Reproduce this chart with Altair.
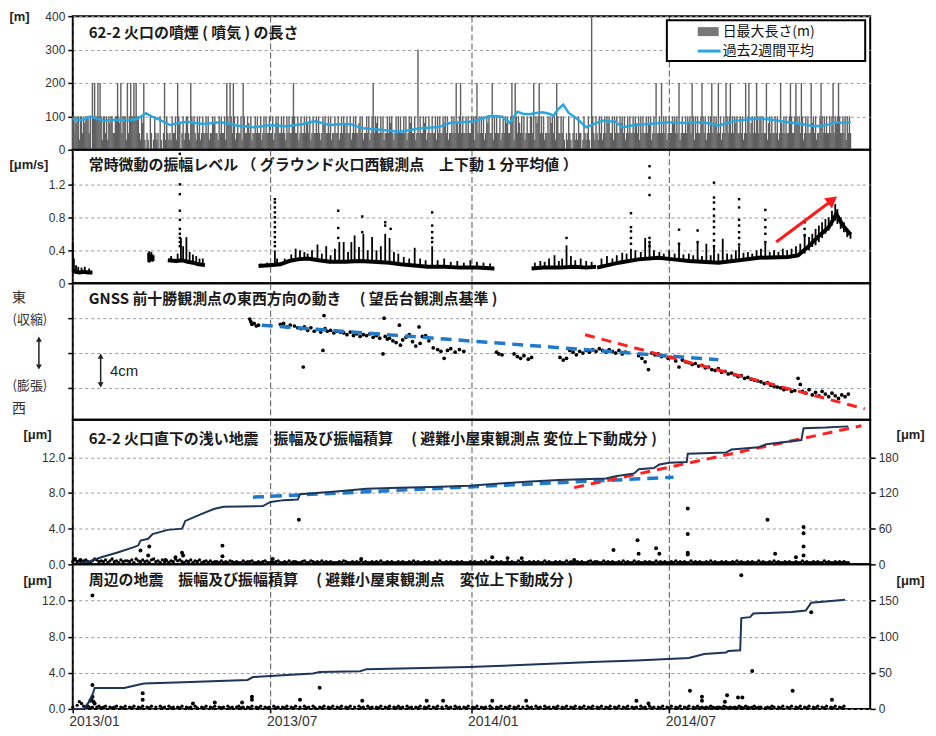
import altair as alt
import pandas as pd

JP = "Noto Sans CJK JP"
LAT = "Liberation Sans"
ONE = pd.DataFrame({"k": [0]})

# ---------------- shared time axis (days since 2013-01-01) ----------------
X_DOMAIN = [0, 730]
TICK_DAYS = [0, 181, 365, 546]
TICK_LABELS = ["2013/01", "2013/07", "2014/01", "2014/07"]

# ---------------- panel 1 : plume height ----------------
SMOKE_DAILY_CODES = [
    "1h1e11q11h1e111h10h1e1111h1q11", "h1q1e11hh11q1e1h111q1h1e11h1q1",
    "1hq1e1q0hq01h0q1hqh01q0h1q1hqh", "q1hh1qh1e0h1qh11hqh1e1hq1h1qh1",
    "hh1h1qhh1e1hhq1h1hh1qh1eh1hh1q", "h1hh1qh1hh1eh1qhh1h1hh1qh1h1hh",
    "1hh1qh1e1hh1h1hq1h1hh1e1hh1qh1", "hh1h1eh1qh1hh1h1hqh1e1hh1h1qhh",
    "1hh1qh1h1eh1hh1qh1h1hhe1h1qhh1", "h1qh1hh1e1hh1h1qhh1h1e1hqh1h1h",
    "1hh1h1qh1e1hh1qh1h1hh1e1qh1hh1", "hh1q1h1hh1e1h1qhh1h1h1eh1qh1hh",
    "1h1hh1e1q1hh1h1h1qh1e1hh1q1h1h", "h1qh1h1e1hh1h1qh1h1eh1h1qh1hh1",
    "1h1q1e1hh1h1qhh1h1e1h1qh1hh1h1", "q0hq1hq0h1qhq1hh0q1hqh1q0h1hq1",
    "hq1h1qh1h1e1hh1q1h1hh1e1h1qh1h", "1hh1h1eh1q1h1hh1h1e1qh1h1hh1h1",
    "h1h1qh1hh1e1h1h1qh1hh1h1e1hh1q", "1h1hh1e1h1qh1h1hh1e1h1h1qh1hh1",
    "h1qh1h1e1hh1h1qh1h1hhe1h1hq1h1", "1h1hh1qe1h1hh1h1qh1eh1h1hh1q1h",
    "h1h1e1hh1qh1h1hh1e1h1qhh1h1h1h", "1hh1h1qh1e1h1hh1h1q1h1hh1e1h1h",
]
SMOKE_CODE_VALUES = {"0": 0, "q": 30, "h": 50, "e": 80, "1": 100}
SMOKE_LAST_DAY = 712
SMOKE_PEAK_DAYS = [18, 20, 23, 25, 41, 44, 50, 53, 56, 58, 65, 84, 96, 108, 141, 144,
                   147, 156, 202, 275, 316, 351, 355, 370, 384, 402, 405, 422, 427, 443,
                   475, 534, 539, 555, 567, 576, 585, 591, 598, 602, 616, 619, 626, 635,
                   648, 657, 662, 667, 676, 685, 696, 701]
SMOKE_PEAK_VALUES = [200, 200, 200, 200, 200, 200, 200, 200, 200, 200, 200, 200, 200, 200, 200, 200,
                     200, 200, 200, 200, 300, 200, 200, 200, 200, 200, 200, 200, 200, 200,
                     400, 200, 200, 200, 200, 200, 200, 200, 200, 200, 200, 200, 200, 200,
                     200, 200, 200, 200, 200, 200, 200, 200]
AVG_DAYS = [0, 8, 16, 22, 28, 40, 50, 59, 67, 72, 78, 89, 97, 105, 112, 120, 128, 135, 143,
            151, 158, 165, 173, 181, 188, 196, 204, 211, 217, 222, 228, 235, 245, 254, 260,
            266, 274, 281, 290, 299, 308, 318, 325, 333, 340, 345, 355, 363, 372, 381, 387,
            393, 400, 407, 412, 418, 424, 430, 436, 440, 444, 449, 454, 462, 470, 478, 485,
            491, 497, 503, 510, 516, 530, 546, 560, 576, 584, 591, 599, 607, 617, 628, 640,
            652, 660, 667, 676, 685, 692, 698, 705, 712]
AVG_VALUES = [92, 88, 99, 93, 87, 90, 88, 92, 109, 100, 92, 74, 80, 84, 80, 77, 80, 82, 78,
              72, 70, 67, 70, 74, 72, 70, 74, 77, 82, 85, 80, 74, 76, 77, 70,
              64, 62, 60, 57, 54, 58, 64, 66, 67, 73, 80, 82, 84, 90, 100, 101,
              99, 80, 114, 108, 106, 110, 112, 108, 102, 120, 135, 110, 92, 67, 78, 87,
              85, 84, 67, 72, 74, 78, 82, 80, 82, 78, 72, 80, 87, 90, 94, 90,
              84, 80, 77, 72, 70, 76, 82, 80, 82]

# ---------------- panel 2 : tremor amplitude ----------------
TREM_BASE_SEG = ["A"] * 6 + ["C"] * 7 + ["D"] * 19 + ["E"] * 6 + ["F"] * 18
TREM_BASE_DAYS = [0, 2, 6, 10, 14, 18,
                  87, 95, 100, 105, 110, 115, 121,
                  170, 180, 190, 198, 206, 215, 225, 235, 250, 262, 275, 290, 300, 310, 325, 340, 355, 370, 386,
                  420, 430, 445, 460, 470, 479,
                  480, 490, 500, 518, 536, 550, 564, 591, 610, 628, 655, 664, 673, 682, 692, 699, 705, 712]
TREM_BASE_VALUES = [0.16, 0.14, 0.13, 0.14, 0.13, 0.13,
                    0.28, 0.27, 0.28, 0.26, 0.25, 0.23, 0.22,
                    0.21, 0.22, 0.23, 0.27, 0.29, 0.30, 0.28, 0.26, 0.26, 0.27, 0.26, 0.25, 0.23, 0.22, 0.20, 0.20, 0.19, 0.19, 0.18,
                    0.18, 0.19, 0.19, 0.20, 0.19, 0.20,
                    0.19, 0.22, 0.25, 0.29, 0.31, 0.29, 0.27, 0.25, 0.28, 0.31, 0.32, 0.34, 0.44, 0.56, 0.68, 0.84, 0.70, 0.59]
TREM_SPIKE_DAYS = [0, 1, 3, 5, 8, 11, 15,
                   69, 70, 71, 72, 73, 74,
                   90, 96, 99, 101, 104, 107, 110, 113, 116, 119,
                   172, 178, 185, 187, 194, 200, 204, 208, 212, 215, 219, 224, 228, 232, 236, 240, 244, 248,
                   252, 255, 258, 262, 266, 270, 274, 278, 282, 286, 290, 294, 298, 303, 308, 313, 318, 323,
                   329, 334, 340, 346, 352, 358, 364, 370, 376, 382,
                   423, 428, 432, 436, 441, 445, 448, 452, 456, 460, 465, 470, 475,
                   484, 489, 494, 498, 503, 507, 511, 515, 520, 524, 528, 532, 537, 541, 546, 551, 555, 559,
                   564, 568, 572, 576, 580, 584, 587, 591, 595, 599, 603, 607, 610, 614, 618, 622, 626, 630,
                   634, 638, 642, 646, 650, 654, 658, 662, 666, 670, 674, 677, 680, 683, 686, 689, 692, 695,
                   698, 700, 703, 706, 709, 712]
TREM_SPIKE_LOW = [0.14, 0.13, 0.12, 0.12, 0.12, 0.12, 0.12,
                  0.26, 0.25, 0.26, 0.27, 0.26, 0.27,
                  0.26, 0.26, 0.27, 0.27, 0.25, 0.25, 0.24, 0.23, 0.22, 0.21,
                  0.20, 0.20, 0.22, 0.22, 0.24, 0.27, 0.28, 0.28, 0.29, 0.28, 0.27, 0.27, 0.26, 0.25, 0.25, 0.25, 0.25, 0.25,
                  0.25, 0.26, 0.26, 0.26, 0.26, 0.26, 0.25, 0.25, 0.25, 0.24, 0.24, 0.23, 0.22, 0.22, 0.21, 0.21, 0.20, 0.20,
                  0.20, 0.20, 0.19, 0.19, 0.19, 0.18, 0.18, 0.18, 0.18, 0.17,
                  0.17, 0.17, 0.18, 0.18, 0.18, 0.18, 0.19, 0.18, 0.19, 0.19, 0.19, 0.18, 0.19,
                  0.20, 0.21, 0.22, 0.24, 0.25, 0.26, 0.27, 0.28, 0.28, 0.29, 0.29, 0.30, 0.30, 0.29, 0.29, 0.28, 0.28, 0.27,
                  0.27, 0.26, 0.26, 0.25, 0.25, 0.25, 0.25, 0.25, 0.26, 0.27, 0.27, 0.28, 0.28, 0.29, 0.30, 0.30, 0.30, 0.31,
                  0.31, 0.31, 0.31, 0.32, 0.32, 0.32, 0.33, 0.33, 0.34, 0.36, 0.40, 0.44, 0.46, 0.50, 0.55, 0.60, 0.64, 0.70,
                  0.76, 0.72, 0.66, 0.62, 0.56, 0.54]
TREM_SPIKE_HIGH = [0.50, 0.30, 0.22, 0.20, 0.19, 0.20, 0.18,
                   0.37, 0.39, 0.36, 0.38, 0.35, 0.34,
                   0.33, 0.36, 0.55, 0.45, 0.56, 0.38, 0.35, 0.33, 0.30, 0.30,
                   0.24, 0.25, 0.40, 0.30, 0.30, 0.35, 0.42, 0.40, 0.38, 0.36, 0.40, 0.47, 0.36, 0.45, 0.34, 0.42, 0.50, 0.50,
                   0.38, 0.50, 0.58, 0.44, 0.60, 0.40, 0.56, 0.40, 0.45, 0.60, 0.55, 0.38, 0.36, 0.32, 0.30, 0.43, 0.30, 0.28,
                   0.45, 0.28, 0.30, 0.26, 0.27, 0.25, 0.28, 0.26, 0.25, 0.24,
                   0.25, 0.27, 0.26, 0.30, 0.34, 0.27, 0.30, 0.46, 0.33, 0.28, 0.30, 0.27, 0.26,
                   0.30, 0.33, 0.30, 0.34, 0.37, 0.36, 0.42, 0.40, 0.38, 0.55, 0.50, 0.40, 0.38, 0.36, 0.40, 0.36, 0.48, 0.35,
                   0.36, 0.34, 0.50, 0.33, 0.48, 0.34, 0.45, 0.36, 0.54, 0.36, 0.35, 0.40, 0.45, 0.37, 0.38, 0.36, 0.40, 0.42,
                   0.50, 0.38, 0.40, 0.38, 0.42, 0.40, 0.42, 0.45, 0.48, 0.60, 0.56, 0.60, 0.66, 0.70, 0.74, 0.78, 0.80, 0.88,
                   0.96, 0.90, 0.80, 0.74, 0.66, 0.62]
TREM_DOT_COLUMNS = {
    98: [1.57, 1.2, 1.08, 0.88, 0.77, 0.66, 0.6, 0.55, 0.5, 0.45],
    185: [1.02, 0.98, 0.92, 0.86, 0.8, 0.74, 0.68, 0.62, 0.56, 0.5, 0.45],
    243: [0.88, 0.67, 0.55],
    265: [0.81, 0.62],
    286: [0.74, 0.7],
    291: [0.66],
    329: [0.86, 0.7, 0.62, 0.55, 0.5],
    452: [0.55],
    511: [0.85, 0.68, 0.63, 0.55, 0.48],
    528: [1.42, 1.28, 1.07, 0.55, 0.5, 0.45],
    555: [0.65, 0.48],
    572: [0.64, 0.5],
    587: [1.22, 1.04, 0.98, 0.9, 0.82, 0.75, 0.68, 0.6, 0.52, 0.45],
    610: [1.02, 0.92, 0.77, 0.7, 0.62, 0.55, 0.47],
    634: [0.89, 0.77, 0.68, 0.6, 0.5],
    670: [0.74, 0.66, 0.58],
}
ARROW_DAYS = [644, 695.5]
ARROW_VALUES = [0.50, 1.01]

# ---------------- panel 3 : GNSS east-west ----------------
GNSS_DAYS = [162, 163, 164, 166, 168, 170, 190, 193, 196, 199, 203, 206,
             209, 211, 212, 215, 218, 221, 224, 227, 229, 230, 231, 233, 236, 239, 242, 245,
             248, 251, 254, 257, 260, 263, 266, 269, 272, 275, 278, 281, 284, 285, 286, 288,
             290, 293, 296, 299, 300, 302, 305, 308, 311, 314, 317, 318, 320, 323, 326,
             330, 334, 337, 340, 343, 346, 350, 354, 358,
             388, 390, 393, 404, 407, 410, 413, 417, 420, 446, 449, 452, 455, 458, 461, 464,
             467, 470, 473, 476, 479, 482, 485, 488, 491, 494, 497, 500, 503, 506, 518, 521,
             524, 527, 530, 533, 536, 539, 542, 545, 548, 552, 555, 558, 561, 564, 567, 570,
             573, 576, 579, 582, 585, 588, 591, 594, 597, 600, 603, 606, 609, 612, 615, 618,
             621, 624, 627, 630, 633, 636, 639, 642, 645, 648, 651, 654, 658, 661, 664, 666,
             668, 671, 674, 677, 680, 683, 686, 689, 692, 695, 698, 701, 704, 707, 710]
GNSS_CM = [3.9, 3.6, 3.3, 3.4, 3.1, 3.2, 3.3, 3.4, 3.0, 3.2, 3.1, 2.9,
           2.8, -1.6, 3.0, 2.6, 2.9, 2.5, 2.7, 2.4, 0.3, 4.3, 2.8, 2.5, 2.6, 2.3, 2.5, 2.4,
           2.3, 2.1, 2.4, 2.0, 2.2, 1.9, 2.1, 2.0, 2.2, 1.8, 2.0, 1.7, -0.1, 4.0, 1.9, 1.6,
           1.7, 1.4, 1.2, 3.2, 0.9, 1.5, 1.8, 2.1, 1.3, 0.8, 3.0, 1.1, 1.9, 2.0, 1.4,
           0.6, 0.4, 0.2, -0.6, 0.3, 0.5, 0.1, 0.4, 0.2,
           0.1, -0.1, -0.2, -0.1, -0.4, -0.6, -0.3, -0.7, -0.5, -0.5, -0.8, -0.6, 0.3, 0.1, -0.2, 0.2,
           0.0, 0.3, 0.1, 0.4, 0.2, 0.5, 0.3, 0.1, 0.4, 0.2, 0.0, 0.3, -0.1, 0.1, -0.3, -0.6,
           -1.0, -1.9, 0.0, -0.2, -0.1, -0.4, -0.3, -0.6, -0.5, -0.9, -1.6, -0.8, -1.0, -1.1, -1.3, -1.2,
           -1.5, -1.4, -1.7, -1.6, -1.9, -2.0, -1.8, -2.2, -2.1, -2.4, -2.3, -2.5, -2.7, -2.6, -2.9, -2.8,
           -3.0, -3.1, -3.2, -3.3, -3.5, -3.4, -3.7, -3.8, -3.9, -4.0, -4.2, -4.1, -4.4, -4.3, -2.9, -3.6,
           -4.4, -4.6, -4.2, -4.8, -4.5, -4.9, -4.4, -4.7, -5.0, -4.6, -4.9, -5.2, -4.8, -5.0, -4.7]
GNSS_TREND1_DAYS = [173, 591]
GNSS_TREND1_CM = [3.2, -0.77]
GNSS_TREND2_DAYS = [469, 725]
GNSS_TREND2_CM = [2.1, -6.4]

# ---------------- panel 4 : shallow earthquakes ----------------
EQ4_BASE_CODES = [
    "353424532465343524634253443526", "435342563425342436453243524352",
    "342423324232432322423342232342", "232342232423322342243232423232",
    "223243223232423223232422323223", "232232423223232232422323223232",
    "223232232423223232232322423223", "232322423223232242322323223423",
    "322423232232423224232232322423", "232232423232242323223242322323",
    "223242322323224232232423223232", "232242322323224232232323220000",
]
EQ4_EVENT_DAYS = [2, 7, 62, 69, 70, 85, 94, 100, 101, 137, 137, 183, 207, 264, 384, 398, 411,
                  459, 495, 517, 518, 534, 537, 563, 563, 563, 563, 636, 643, 662, 669, 669, 669, 669]
EQ4_EVENT_AMP = [0.6, 0.5, 1.55, 1.0, 2.0, 0.5, 0.8, 1.3, 1.0, 2.1, 0.9, 0.6, 5.0, 0.6, 0.8, 0.7, 0.7,
                 0.5, 1.6, 2.7, 1.2, 1.8, 1.2, 6.25, 3.4, 1.3, 1.1, 5.0, 1.2, 0.8, 4.2, 3.5, 2.0, 1.0]
CUM4_DAYS = [0, 14, 26, 41, 56, 60, 62, 69, 73, 87, 100, 103, 117, 129, 138, 174, 181, 193, 206, 208,
             238, 269, 299, 329, 363, 415, 445, 488, 497, 514, 518, 532, 537, 546, 562, 563, 598, 603,
             628, 635, 667, 669, 689, 710]
CUM4_VALUES = [0, 4, 12, 20, 29, 32, 40, 43, 51, 58, 60, 73, 84, 93, 97, 98, 105, 108, 109, 118,
               122, 127, 129, 130, 132, 139, 142, 144.5, 148, 153, 160, 162, 168, 171, 172, 186, 188, 193,
               197, 202, 209, 229, 230, 232]
CUM4_TREND1_DAYS = [165, 550]
CUM4_TREND1_VALUES = [113, 146.5]
CUM4_TREND2_DAYS = [459, 722]
CUM4_TREND2_VALUES = [129, 233]

# ---------------- panel 5 : surrounding earthquakes ----------------
EQ5_BASE_CODES = [
    "204863231202312302123021302130", "213021302031203120213021203102",
    "130213021203120231202130213021", "203120213021302031203102130213",
    "021302130203120312021302130213", "120312021302130213020312031202",
    "130213021203102130213021302031", "203120312021302130213021302130",
    "213021302130213021203120312021", "302130213021302131212132122132",
    "121213213212312201213202130213", "021302130213021302130213000000",
]
EQ5_EVENT_DAYS = [16, 17, 18, 18, 18, 19, 20, 64, 64, 110, 130, 155, 164, 164, 208, 226, 265, 324,
                  339, 384, 415, 516, 527, 565, 576, 576, 597, 599, 609, 612, 613, 622, 659, 676, 695]
EQ5_EVENT_AMP = [0.9, 1.1, 12.55, 2.64, 1.35, 0.8, 0.6, 1.73, 1.0, 0.6, 0.7, 0.7, 1.35, 1.0, 1.0, 2.35,
                 0.9, 0.9, 0.9, 0.9, 0.9, 0.9, 0.6, 2.0, 1.35, 0.9, 0.8, 1.5, 1.25, 14.8, 1.25, 4.2,
                 2.0, 10.7, 1.0]
CUM5_DAYS = [0, 10, 16, 19, 20, 47, 65, 101, 160, 165, 196, 220, 226, 263, 269, 363, 415, 475, 516,
             564, 578, 598, 600, 611, 612, 620, 623, 658, 671, 676, 689, 707]
CUM5_VALUES = [0, 0, 12, 24, 29, 29, 35, 37, 40, 44, 47, 49, 51, 52, 55, 58, 61, 65, 67,
               70.5, 76, 78, 80, 81, 125.6, 127, 132, 134, 136, 147, 148.5, 151]

TITLES = [
    "62-2 火口の噴煙 ( 噴気 ) の長さ",
    "常時微動の振幅レベル （ グラウンド火口西観測点　上下動 1 分平均値 ）",
    "GNSS 前十勝観測点の東西方向の動き　 ( 望岳台観測点基準 )",
    "62-2 火口直下の浅い地震　振幅及び振幅積算　 ( 避難小屋東観測点 変位上下動成分 )",
    "周辺の地震　振幅及び振幅積算　 ( 避難小屋東観測点　変位上下動成分 )",
]

# ---------------- build data frames ----------------
codes = "".join(SMOKE_DAILY_CODES)[: SMOKE_LAST_DAY + 1]
smoke = pd.DataFrame({"d": list(range(len(codes))), "v": [SMOKE_CODE_VALUES[c] for c in codes]})
for day, val in zip(SMOKE_PEAK_DAYS, SMOKE_PEAK_VALUES):
    smoke.loc[smoke["d"] == day, "v"] = val
smoke["z"] = 0
avg = pd.DataFrame({"d": AVG_DAYS, "v": AVG_VALUES})

trem_base = pd.DataFrame({"d": TREM_BASE_DAYS, "v": TREM_BASE_VALUES, "seg": TREM_BASE_SEG})
trem_spk = pd.DataFrame({"d": TREM_SPIKE_DAYS, "lo": TREM_SPIKE_LOW, "hi": TREM_SPIKE_HIGH})
dd, dv = [], []
for day, vals in TREM_DOT_COLUMNS.items():
    for v in vals:
        dd.append(day)
        dv.append(v)
trem_dot = pd.DataFrame({"d": dd, "v": dv})
arrow = pd.DataFrame({"d": ARROW_DAYS, "v": ARROW_VALUES})
arrow_head = arrow.tail(1)

gnss = pd.DataFrame({"d": GNSS_DAYS, "v": GNSS_CM})
gt1 = pd.DataFrame({"d": GNSS_TREND1_DAYS, "v": GNSS_TREND1_CM})
gt2 = pd.DataFrame({"d": GNSS_TREND2_DAYS, "v": GNSS_TREND2_CM})
scale_bar = pd.DataFrame({"d": [25.5], "lo": [-3.75], "hi": [-0.25]})
scale_heads = pd.DataFrame({"d": [25.5, 25.5], "v": [-0.35, -3.65], "s": ["triangle-up", "triangle-down"]})
scale_text = pd.DataFrame({"d": [34], "v": [-2.05], "t": ["4cm"]})


def base_frame(code_chunks, last_day):
    s = "".join(code_chunks)
    rows = [(2 * i, int(c) * 0.1) for i, c in enumerate(s) if c != "0" and 2 * i <= last_day]
    return pd.DataFrame(rows, columns=["d", "v"])


eq4_base = base_frame(EQ4_BASE_CODES, 712)
eq4_evt = pd.DataFrame({"d": EQ4_EVENT_DAYS, "v": EQ4_EVENT_AMP})
cum4 = pd.DataFrame({"d": CUM4_DAYS, "v": CUM4_VALUES})
c4t1 = pd.DataFrame({"d": CUM4_TREND1_DAYS, "v": CUM4_TREND1_VALUES})
c4t2 = pd.DataFrame({"d": CUM4_TREND2_DAYS, "v": CUM4_TREND2_VALUES})

eq5_base = base_frame(EQ5_BASE_CODES, 712)
eq5_evt = pd.DataFrame({"d": EQ5_EVENT_DAYS, "v": EQ5_EVENT_AMP})
cum5 = pd.DataFrame({"d": CUM5_DAYS, "v": CUM5_VALUES})

# ---------------- encodings ----------------
W = 800
H = [134, 134, 137, 145, 145]

xlabel_expr = f"'{TICK_LABELS[-1]}'"
for day, lab in zip(TICK_DAYS[-2::-1], TICK_LABELS[-2::-1]):
    xlabel_expr = f"datum.value <= {day + 1} ? '{lab}' : ({xlabel_expr})"


def make_x(bottom=False):
    scale = alt.Scale(domain=X_DOMAIN, nice=False, zero=False)
    common = dict(values=TICK_DAYS, grid=True, gridDash=[6, 3], gridColor="#555555",
                  gridWidth=1, domain=False, title=None)
    if bottom:
        axis = alt.Axis(labelExpr=xlabel_expr, labelFont=LAT, labelFontSize=14,
                        labelColor="#333333", labelAlign="left", labelOffset=-4,
                        labelPadding=2, ticks=True, tickSize=4, tickColor="black",
                        tickWidth=1.5, **common)
    else:
        axis = alt.Axis(labels=False, ticks=False, **common)
    return alt.X("d:Q", scale=scale, axis=axis)


def left_axis(values, title=None, tx=-64, ty=0, fmt=None, expr=None, labels=True):
    kw = dict(values=values, grid=True, gridDash=[3, 3], gridColor="#9a9a9a", gridWidth=1,
              domain=False, ticks=True, tickSize=5, tickColor="black", tickWidth=1.5,
              labels=labels, labelFont=LAT, labelFontSize=12, labelColor="#333333",
              labelPadding=3)
    if title:
        kw.update(title=title, titleAngle=0, titleAlign="left", titleBaseline="middle",
                  titleX=tx, titleY=ty, titleFont=LAT, titleFontSize=13,
                  titleFontWeight="bold", titleColor="#222222")
    else:
        kw["title"] = None
    if fmt:
        kw["format"] = fmt
    if expr:
        kw["labelExpr"] = expr
    return alt.Axis(**kw)


def right_axis(values, ty):
    return alt.Axis(orient="right", values=values, grid=False, domain=False, ticks=True,
                    tickSize=5, tickColor="black", tickWidth=1.5, labelFont=LAT,
                    labelFontSize=12, labelColor="#333333", labelPadding=3, format="d",
                    title="[μm]", titleAngle=0, titleAlign="left", titleBaseline="middle",
                    titleX=26, titleY=ty, titleFont=LAT, titleFontSize=13,
                    titleFontWeight="bold", titleColor="#222222")


def yq(field, domain, axis):
    return alt.Y(f"{field}:Q", scale=alt.Scale(domain=domain, nice=False, zero=False), axis=axis)


def text_at(txt, px, py, size=14, weight="normal", font=JP, align="left", color="#111111"):
    return alt.Chart(ONE).mark_text(text=txt, align=align, baseline="middle", font=font,
                                    fontSize=size, fontWeight=weight, color=color).encode(
        x=alt.value(px), y=alt.value(py))


def title_at(txt, py):
    return text_at(txt, 16, py, size=15, weight="bold", color="#1a1a1a")


# ---------------- panel 1 ----------------
ax1 = left_axis([0, 100, 200, 300, 400], "[m]", ty=0)
D1 = [0, 400]
p1 = alt.layer(
    alt.Chart(smoke).mark_rule(color="#5f5f5f", strokeWidth=1.4).encode(
        x=make_x(), y=yq("v", D1, ax1), y2="z:Q"),
    alt.Chart(avg).mark_line(color="#2aa7de", strokeWidth=2.5).encode(
        x=make_x(), y=yq("v", D1, ax1)),
    title_at(TITLES[0], 17),
    alt.Chart(ONE).mark_rect(fill="white", stroke="black", strokeWidth=2).encode(
        x=alt.value(596), x2=alt.value(795), y=alt.value(4), y2=alt.value(45)),
    alt.Chart(ONE).mark_rect(fill="#777777").encode(
        x=alt.value(627), x2=alt.value(648), y=alt.value(11), y2=alt.value(20)),
    alt.Chart(ONE).mark_rule(color="#2aa7de", strokeWidth=3).encode(
        x=alt.value(627), x2=alt.value(650), y=alt.value(35)),
    text_at("日最大長さ(m)", 652, 15.5),
    text_at("過去2週間平均", 652, 35),
).properties(width=W, height=H[0])

# ---------------- panel 2 ----------------
ax2 = left_axis([0, 0.4, 0.8, 1.2], "[μm/s]", ty=15,
                expr="datum.value == 0 ? '0' : format(datum.value, '.1f')")
D2 = [0, 1.62]
p2 = alt.layer(
    alt.Chart(trem_base).mark_line(color="black", strokeWidth=4).encode(
        x=make_x(), y=yq("v", D2, ax2), detail="seg:N"),
    alt.Chart(trem_spk).mark_rule(color="black", strokeWidth=1.8).encode(
        x=make_x(), y=yq("hi", D2, ax2), y2="lo:Q"),
    alt.Chart(trem_dot).mark_square(color="black", size=6, opacity=1).encode(
        x=make_x(), y=yq("v", D2, ax2)),
    alt.Chart(arrow).mark_line(color="#ff1a1a", strokeWidth=3).encode(
        x=make_x(), y=yq("v", D2, ax2)),
    alt.Chart(arrow_head).mark_point(shape="triangle-up", filled=True, color="#ff1a1a",
                                     size=170, angle=53, opacity=1).encode(
        x=make_x(), y=yq("v", D2, ax2)),
    title_at(TITLES[1], 15),
).properties(width=W, height=H[1])

# ---------------- panel 3 ----------------
ax3 = left_axis([-4, 0, 4], labels=False)
D3 = [-7.66, 8.0]
p3 = alt.layer(
    alt.Chart(gnss).mark_circle(color="black", size=14, opacity=1).encode(
        x=make_x(), y=yq("v", D3, ax3)),
    alt.Chart(gt1).mark_line(color="#1f7acb", strokeWidth=3.5, strokeDash=[11, 7]).encode(
        x=make_x(), y=yq("v", D3, ax3)),
    alt.Chart(gt2).mark_line(color="#ff2020", strokeWidth=3, strokeDash=[10, 7]).encode(
        x=make_x(), y=yq("v", D3, ax3)),
    alt.Chart(scale_bar).mark_rule(color="#222222", strokeWidth=1.5).encode(
        x=make_x(), y=yq("hi", D3, ax3), y2="lo:Q"),
    alt.Chart(scale_heads).mark_point(filled=True, color="#222222", size=35, opacity=1).encode(
        x=make_x(), y=yq("v", D3, ax3), shape=alt.Shape("s:N", scale=None)),
    alt.Chart(scale_text).mark_text(align="left", baseline="middle", font=LAT, fontSize=15,
                                    color="#222222").encode(
        x=make_x(), y=yq("v", D3, ax3), text="t:N"),
    title_at(TITLES[2], 16),
    text_at("東", -54, 15, size=14, align="center", color="#333333"),
    text_at("(収縮)", -43, 37, size=13, align="center", color="#333333"),
    text_at("(膨張)", -43, 103, size=13, align="center", color="#333333"),
    text_at("西", -54, 126, size=14, align="center", color="#333333"),
    alt.Chart(ONE).mark_rule(color="#222222", strokeWidth=1.5).encode(
        x=alt.value(-34), y=alt.value(57), y2=alt.value(83)),
    alt.Chart(ONE).mark_point(shape="triangle-up", filled=True, color="#222222", size=35,
                              opacity=1).encode(x=alt.value(-34), y=alt.value(56)),
    alt.Chart(ONE).mark_point(shape="triangle-down", filled=True, color="#222222", size=35,
                              opacity=1).encode(x=alt.value(-34), y=alt.value(84)),
).properties(width=W, height=H[2])

# ---------------- panel 4 ----------------
ax4L = left_axis([0, 4, 8, 12], "[μm]", tx=-50, ty=15, fmt=".1f")
ax4R = right_axis([0, 60, 120, 180], 15)
D4L, D4R = [0, 16.2], [0, 243]
p4_left = alt.layer(
    alt.Chart(eq4_base).mark_circle(color="black", size=11, opacity=1).encode(
        x=make_x(), y=yq("v", D4L, ax4L)),
    alt.Chart(eq4_evt).mark_circle(color="black", size=16, opacity=1).encode(
        x=make_x(), y=yq("v", D4L, ax4L)),
    title_at(TITLES[3], 19),
)
p4_right = alt.layer(
    alt.Chart(c4t1).mark_line(color="#1f7acb", strokeWidth=3.5, strokeDash=[11, 7]).encode(
        x=make_x(), y=yq("v", D4R, ax4R)),
    alt.Chart(c4t2).mark_line(color="#ff2020", strokeWidth=3, strokeDash=[10, 7]).encode(
        x=make_x(), y=yq("v", D4R, ax4R)),
    alt.Chart(cum4).mark_line(color="#1d3557", strokeWidth=2).encode(
        x=make_x(), y=yq("v", D4R, ax4R)),
)
p4 = alt.layer(p4_left, p4_right).resolve_scale(y="independent").properties(width=W, height=H[3])

# ---------------- panel 5 ----------------
ax5L = left_axis([0, 4, 8, 12], "[μm]", tx=-50, ty=16, fmt=".1f")
ax5R = right_axis([0, 50, 100, 150], 16)
D5L, D5R = [0, 16], [0, 200]
p5_left = alt.layer(
    alt.Chart(eq5_base).mark_circle(color="black", size=11, opacity=1).encode(
        x=make_x(True), y=yq("v", D5L, ax5L)),
    alt.Chart(eq5_evt).mark_circle(color="black", size=16, opacity=1).encode(
        x=make_x(True), y=yq("v", D5L, ax5L)),
    title_at(TITLES[4], 16),
)
p5_right = alt.layer(
    alt.Chart(cum5).mark_line(color="#1d3557", strokeWidth=2).encode(
        x=make_x(True), y=yq("v", D5R, ax5R)),
)
p5 = alt.layer(p5_left, p5_right).resolve_scale(y="independent").properties(width=W, height=H[4])

chart = alt.vconcat(p1, p2, p3, p4, p5, spacing=0, bounds="flush").properties(
    padding={"left": 0, "top": 0, "right": 2, "bottom": 0}
).configure_view(stroke="black", strokeWidth=2)

chart.save("out.html", embed_options={"renderer": "svg", "actions": False})
